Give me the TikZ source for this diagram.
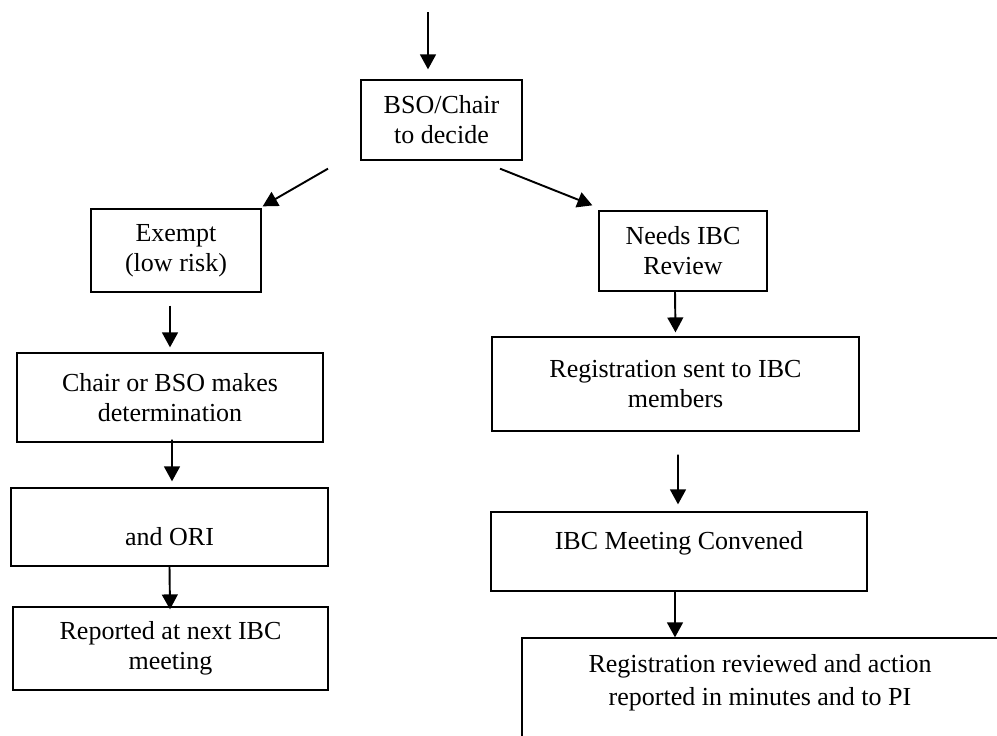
\documentclass[tikz,border=0pt]{standalone}
\usepackage{fontspec}
\setmainfont{Liberation Serif}
\usetikzlibrary{calc,arrows.meta}

\begin{document}
\begin{tikzpicture}[x=0.02cm, y=-0.02cm,
    box/.style={draw, line width=0.75pt, align=center, inner sep=2pt,
      font=\fontsize{14.8pt}{17pt}\selectfont},
    arr/.style={line width=1.1pt, -{Triangle[length=8.5pt, width=9pt]}}]
  \useasboundingbox (0,0) rectangle (997,735);

  % centre of the diagram
  \node[box, minimum width=3.22cm, minimum height=1.6cm] (bso) at (441.5,120) {BSO/Chair\\to decide};
  % exempt branch
  \node[box, minimum width=3.4cm, minimum height=1.66cm] (exempt) at (176,250.5) {Exempt\\(low risk)};
  \node[box, minimum width=6.12cm, minimum height=1.78cm] (chair) at (170,397.5) {Chair or BSO makes\\determination};
  \node[box, minimum width=6.34cm, minimum height=1.56cm, text height=21pt] (ori) at (169.5,527) {and ORI};
  \node[box, minimum width=6.3cm, minimum height=1.66cm] (report) at (170.5,648.5) {Reported at next IBC\\meeting};
  % review branch
  \node[box, minimum width=3.36cm, minimum height=1.6cm] (needs) at (683,251) {Needs IBC\\Review};
  \node[box, minimum width=7.34cm, minimum height=1.88cm] (sent) at (675.5,384) {Registration sent to IBC\\members};
  \node[box, minimum width=7.52cm, minimum height=1.58cm, text depth=13pt] (meeting) at (679,551.5) {IBC Meeting Convened};
  \node[box, minimum width=9.52cm, minimum height=2.24cm, text depth=16pt,
    font=\fontsize{14.8pt}{18.5pt}\selectfont] (action) at (760,694) {Registration reviewed and action\\reported in minutes and to PI};

  \coordinate (in) at (428,12);
  \draw[arr] (in) -- ($(in |- bso.north)+(0,-10)$);
  \draw[arr] ($(bso.south)+(-113.5,8)$) -- ($(exempt.north east)+(1,-2)$);
  \draw[arr] ($(bso.south)+(58.5,8)$) -- ($(needs.north west)+(-6,-5)$);
  \draw[arr] ($(exempt.south)+(-6,13)$) -- ($(chair.north)+(0,-5)$);
  \draw[arr] ($(chair.south)+(2,-3)$) -- ($(ori.north)+(2.5,-6)$);
  \draw[arr] (ori.south) -- ($(report.north)+(-0.5,3)$);
  \draw[arr] ($(needs.south)+(-8,0)$) -- ($(sent.north)+(0,-4)$);
  \draw[arr] ($(sent.south)+(2.5,23)$) -- ($(meeting.north)+(-1,-7)$);
  \coordinate (m9) at ($(meeting.south)+(-4,0)$);
  \draw[arr] (m9) -- (m9 |- action.north);
\end{tikzpicture}
\end{document}
